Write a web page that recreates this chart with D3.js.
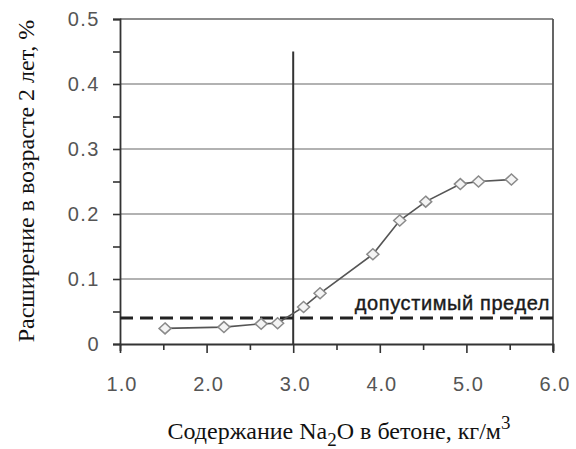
<!DOCTYPE html>
<html>
<head>
<meta charset="utf-8">
<script src="https://cdn.jsdelivr.net/npm/d3@7"></script>
<style>
  body { margin: 0; background: #fff; }
  svg { display: block; }
</style>
</head>
<body>
<svg id="chart" width="576" height="449"></svg>
<script>
// Na2O content, kg/m3
const naContent = [1.52, 2.2, 2.63, 2.82, 3.12, 3.31, 3.92, 4.23, 4.53, 4.93, 5.14, 5.52];
// expansion at 2 years, %
const expansion = [0.024, 0.026, 0.031, 0.032, 0.057, 0.078, 0.138, 0.19, 0.219, 0.246, 0.25, 0.253];

const xTicks = [1, 2, 3, 4, 5, 6];
const yTicks = [0, 0.1, 0.2, 0.3, 0.4, 0.5];
const limitValue = 0.04;
const markerX = 3.0;
const markerTop = 0.45;

const svg = d3.select("#chart");

// plot area
const x = d3.scaleLinear().domain([1, 6]).range([120, 553]);
const y = d3.scaleLinear().domain([0, 0.5]).range([344, 19]);

// horizontal grid lines
svg.append("g")
  .selectAll("line")
  .data(yTicks.filter((d) => d > 0))
  .join("line")
  .attr("x1", x(1))
  .attr("x2", x(6))
  .attr("y1", (d) => y(d))
  .attr("y2", (d) => y(d))
  .attr("stroke", (d) => (d === 0.5 ? "#666" : "#999"))
  .attr("stroke-width", 1.6);

// right border
svg.append("line")
  .attr("x1", x(6)).attr("x2", x(6))
  .attr("y1", y(0.5)).attr("y2", y(0) + 8)
  .attr("stroke", "#555")
  .attr("stroke-width", 1.8);

// y axis with major + minor ticks
const yAxis = d3.axisLeft(y)
  .tickValues(d3.range(0, 0.501, 0.05))
  .tickSize(7)
  .tickFormat("");
const yG = svg.append("g").attr("transform", `translate(${x(1)},0)`).call(yAxis);
yG.select(".domain").attr("stroke", "#333").attr("stroke-width", 1.8);
yG.selectAll(".tick line").attr("stroke", "#333").attr("stroke-width", 1.6);

svg.append("g")
  .selectAll("text")
  .data(yTicks)
  .join("text")
  .attr("x", 100)
  .attr("y", (d) => y(d) + 7)
  .attr("text-anchor", "end")
  .attr("font-family", "Liberation Sans, Arial, sans-serif")
  .attr("font-size", 20)
  .attr("letter-spacing", 1.5)
  .attr("fill", "#555")
  .text((d) => (d === 0 ? "0" : d.toFixed(1)));

// x axis with major + minor ticks
const xAxis = d3.axisBottom(x)
  .tickValues(d3.range(1, 6.01, 0.5))
  .tickSize(7)
  .tickFormat("");
const xG = svg.append("g").attr("transform", `translate(0,${y(0)})`).call(xAxis);
xG.select(".domain").attr("stroke", "#333").attr("stroke-width", 1.8);
xG.selectAll(".tick line")
  .attr("stroke", "#333")
  .attr("stroke-width", 1.6)
  .attr("y2", (d) => (Number.isInteger(d) ? 9 : 6));

svg.append("g")
  .selectAll("text")
  .data(xTicks)
  .join("text")
  .attr("x", (d) => x(d) + 2)
  .attr("y", 391)
  .attr("text-anchor", "middle")
  .attr("font-family", "Liberation Sans, Arial, sans-serif")
  .attr("font-size", 20)
  .attr("letter-spacing", 1)
  .attr("fill", "#555")
  .text((d) => d.toFixed(1));

// vertical line at 3.0
svg.append("line")
  .attr("x1", x(markerX)).attr("x2", x(markerX))
  .attr("y1", y(markerTop)).attr("y2", y(0))
  .attr("stroke", "#333")
  .attr("stroke-width", 2);

// permissible limit (dashed)
svg.append("line")
  .attr("x1", x(1)).attr("x2", x(6))
  .attr("y1", y(limitValue)).attr("y2", y(limitValue))
  .attr("stroke", "#222")
  .attr("stroke-width", 3)
  .attr("stroke-dasharray", "13,7");

svg.append("text")
  .attr("x", x(6) - 3)
  .attr("y", y(limitValue) - 8)
  .attr("text-anchor", "end")
  .attr("font-family", "Liberation Sans, Arial, sans-serif")
  .attr("font-size", 20)
  .attr("letter-spacing", 0.6)
  .attr("fill", "#1a1a1a")
  .attr("stroke", "#1a1a1a")
  .attr("stroke-width", 0.4)
  .text("допустимый предел");

// data line
const points = naContent.map((d, i) => [d, expansion[i]]);
svg.append("path")
  .datum(points)
  .attr("fill", "none")
  .attr("stroke", "#555")
  .attr("stroke-width", 1.6)
  .attr("d", d3.line().x((d) => x(d[0])).y((d) => y(d[1])));

// diamond markers
function diamond(cx, cy, w, h) {
  const p = d3.path();
  p.moveTo(cx, cy - h);
  p.lineTo(cx + w, cy);
  p.lineTo(cx, cy + h);
  p.lineTo(cx - w, cy);
  p.closePath();
  return p.toString();
}
svg.append("g")
  .selectAll("path")
  .data(points)
  .join("path")
  .attr("d", (d) => diamond(x(d[0]), y(d[1]), 6, 5.5))
  .attr("fill", "#f4f4f4")
  .attr("stroke", "#8a8a8a")
  .attr("stroke-width", 1.5);

// axis titles
const xTitle = svg.append("text")
  .attr("x", 339)
  .attr("y", 439)
  .attr("text-anchor", "middle")
  .attr("font-family", "Liberation Serif, Times New Roman, serif")
  .attr("font-size", 24)
  .attr("fill", "#111");
xTitle.append("tspan").text("Содержание Na");
xTitle.append("tspan").attr("font-size", 19).attr("dy", 7).text("2");
xTitle.append("tspan").attr("dy", -7).text("O в бетоне, кг/м");
xTitle.append("tspan").attr("font-size", 19).attr("dy", -10).text("3");

svg.append("text")
  .attr("transform", "translate(34,181) rotate(-90)")
  .attr("text-anchor", "middle")
  .attr("font-family", "Liberation Serif, Times New Roman, serif")
  .attr("font-size", 24)
  .attr("fill", "#111")
  .text("Расширение в возрасте 2 лет, %");
</script>
</body>
</html>
